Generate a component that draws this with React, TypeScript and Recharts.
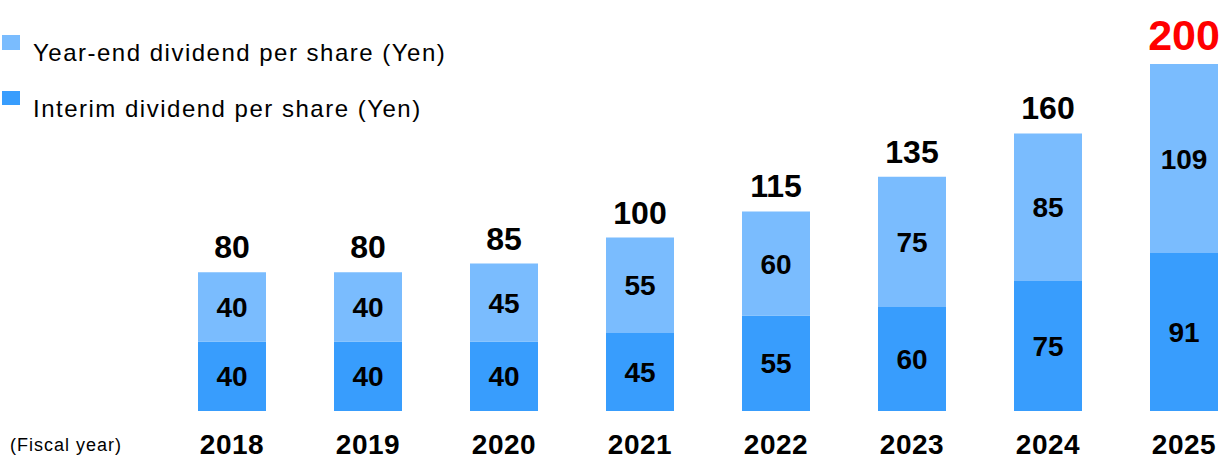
import React from "react";
import { Bar, BarChart, LabelList, XAxis, YAxis } from "recharts";

const YEARS = ["2018", "2019", "2020", "2021", "2022", "2023", "2024", "2025"];
const INTERIM = [40, 40, 40, 45, 55, 60, 75, 91];
const YEAR_END = [40, 40, 45, 55, 60, 75, 85, 109];
const TOTALS = [80, 80, 85, 100, 115, 135, 160, 200];

const LIGHT = "#7ABCFE";
const DARK = "#389DFD";
const FONT = "'Liberation Sans', Arial, sans-serif";

const data = YEARS.map((year, i) => ({
  year,
  interim: INTERIM[i],
  yearEnd: YEAR_END[i],
  total: TOTALS[i],
}));

const InnerLabel = (props: any) => {
  const { x, y, width, height, value } = props;
  return (
    <text
      x={x + width / 2}
      y={y + height / 2 + 10}
      textAnchor="middle"
      fontFamily={FONT}
      fontWeight="bold"
      fontSize={28}
      fill="#000"
    >
      {value}
    </text>
  );
};

const TotalLabel = (props: any) => {
  const { x, y, width, index } = props;
  const last = index === TOTALS.length - 1;
  return (
    <text
      x={x + width / 2}
      y={y - 14}
      textAnchor="middle"
      fontFamily={FONT}
      fontWeight="bold"
      fontSize={last ? 43 : 32}
      fill={last ? "#FF0000" : "#000"}
    >
      {TOTALS[index]}
    </text>
  );
};

const YearTick = (props: any) => {
  const { x, y, payload } = props;
  return (
    <text x={x} y={y + 43} textAnchor="middle" fontFamily={FONT} fontWeight="bold" fontSize={28} letterSpacing={0.5} fill="#000">
      {payload.value}
    </text>
  );
};

export default function App() {
  return (
    <div style={{ position: "absolute", left: 0, top: 0, width: 1223, height: 460, overflow: "hidden", background: "#fff" }}>
      <BarChart
        width={1260}
        height={460}
        data={data}
        margin={{ top: 64, right: 8, left: 164, bottom: 0 }}
        barSize={68}
      >
        <XAxis
          dataKey="year"
          axisLine={false}
          tickLine={false}
          tickSize={0}
          tickMargin={0}
          height={49}
          interval={0}
          tick={<YearTick />}
        />
        <YAxis hide domain={[0, 200]} />
        <Bar dataKey="interim" stackId="d" fill={DARK} isAnimationActive={false}>
          <LabelList dataKey="interim" content={<InnerLabel />} />
        </Bar>
        <Bar dataKey="yearEnd" stackId="d" fill={LIGHT} isAnimationActive={false}>
          <LabelList dataKey="yearEnd" content={<InnerLabel />} />
          <LabelList dataKey="total" content={<TotalLabel />} />
        </Bar>
      </BarChart>
      <svg
        width={1223}
        height={460}
        style={{ position: "absolute", left: 0, top: 0, pointerEvents: "none" }}
      >
        <rect x={2} y={35} width={18} height={15} fill={LIGHT} />
        <text x={33} y={61} fontFamily={FONT} fontSize={24} letterSpacing={1.5} fill="#000">
          Year-end dividend per share (Yen)
        </text>
        <rect x={2} y={91} width={18} height={14} fill={DARK} />
        <text x={33} y={117} fontFamily={FONT} fontSize={24} letterSpacing={1.5} fill="#000">
          Interim dividend per share (Yen)
        </text>
        <text x={10} y={451} fontFamily={FONT} fontSize={18} letterSpacing={1} fill="#000">
          (Fiscal year)
        </text>
      </svg>
    </div>
  );
}
